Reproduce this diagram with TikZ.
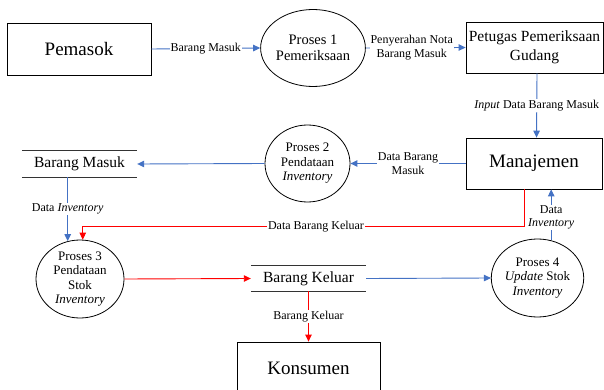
\documentclass[tikz,border=0pt]{standalone}
\usepackage{fontspec}
\setmainfont{Liberation Serif}
\usetikzlibrary{shapes.geometric,arrows.meta,calc}
\definecolor{fblue}{RGB}{68,114,196}
\definecolor{fred}{RGB}{255,0,0}
\begin{document}
\begin{tikzpicture}[x=1pt,y=-1pt,
  ent/.style={draw,line width=0.8pt,rectangle,inner sep=0pt,align=center},
  bigtext/.style={font=\fontsize{19}{22}\selectfont},
  proc/.style={draw,line width=0.8pt,ellipse,inner sep=0pt,align=center,font=\fontsize{13}{14.5}\selectfont},
  store/.style={inner sep=0pt,minimum width=115pt,font=\fontsize{15.5}{18}\selectfont},
  storeline/.style={line width=0.8pt,black!80},
  lbl/.style={fill=white,text=black,inner sep=1pt,align=center,font=\fontsize{12}{14}\selectfont},
  barrow/.style={draw=fblue,line width=0.9pt,-{Triangle[length=7pt,width=6.5pt]},fblue},
  rarrow/.style={draw=fred,line width=0.9pt,-{Triangle[length=7pt,width=6.5pt]},fred}
]
\useasboundingbox (0,0) rectangle (604,390);

% entities
\node[ent,bigtext,minimum width=144pt,minimum height=52pt] (pem) at (79,49) {Pemasok};
\node[ent,minimum width=137pt,minimum height=51pt,font=\fontsize{15.5}{19}\selectfont] (pet) at (534.5,47.5) {Petugas Pemeriksaan\\Gudang};
\node[ent,bigtext,minimum width=136pt,minimum height=51pt] (man) at (534,163.5) {Manajemen};
\node[ent,bigtext,minimum width=143pt,minimum height=52pt] (kon) at (308.5,368) {Konsumen};

% processes
\node[proc,minimum width=96pt,minimum height=77pt,font=\fontsize{14.5}{15.5}\selectfont] (p1) at (313,48) {Proses 1\\Pemeriksaan};
\node[proc,minimum width=85pt,minimum height=77pt] (p2) at (307.5,163.5) {Proses 2\\Pendataan\\\textit{Inventory}};
\node[proc,minimum width=88pt,minimum height=78pt] (p3) at (80,279) {Proses 3\\Pendataan\\Stok\\\textit{Inventory}};
\node[proc,minimum width=87pt,minimum height=78pt] (p4) at (537.5,278) {Proses 4\\\textit{Update} Stok\\\textit{Inventory}};

% data stores
\node[store,minimum height=26pt] (bm) at (79.5,164) {Barang Masuk};
\draw[storeline] (bm.north west) -- (bm.north east);
\draw[storeline] (bm.south west) -- (bm.south east);
\node[store,minimum height=25pt] (bk) at (308.5,278.5) {Barang Keluar};
\draw[storeline] (bk.north west) -- (bk.north east);
\draw[storeline] (bk.south west) -- (bk.south east);

% flows
\draw[barrow] (pem.east) -- node[lbl,pos=0.5] (l1) {Barang Masuk} (p1.west);
\draw[barrow] (p1.east) -- node[lbl,pos=0.46] (l2) {Penyerahan Nota\\Barang Masuk} (pet.west);
\draw[barrow] ([xshift=2.5pt]pet.south) -- node[lbl,pos=0.5] (l3) {\textit{Input} Data Barang Masuk} ([xshift=2.5pt]man.north);
\draw[barrow] (man.west) -- node[lbl,pos=0.5] (l4) {Data Barang\\Masuk} (p2.east);
\draw[barrow] (p2.west) -- (bm.east);
\draw[barrow] (bm.south -| p3.108) -- node[lbl,pos=0.5] (l5) {Data \textit{Inventory}} (p3.108);
\draw[rarrow] ([xshift=-10pt]man.south) |- ($(p3.86)+(0,-13)$) -- (p3.86);
\node[lbl] (l6) at (316,227) {Data Barang Keluar};
\draw[rarrow] (p3.east) -- (bk.west);
\draw[barrow] (bk.east) -- (p4.west);
\draw[barrow] (p4.70) -- node[lbl,pos=0.45,font=\fontsize{12}{13}\selectfont] (l7) {Data\\\textit{Inventory}} (p4.70 |- man.south);
\draw[rarrow] (bk.south) -- node[lbl,pos=0.5] (l8) {Barang Keluar} (kon.north);
\end{tikzpicture}
\end{document}
